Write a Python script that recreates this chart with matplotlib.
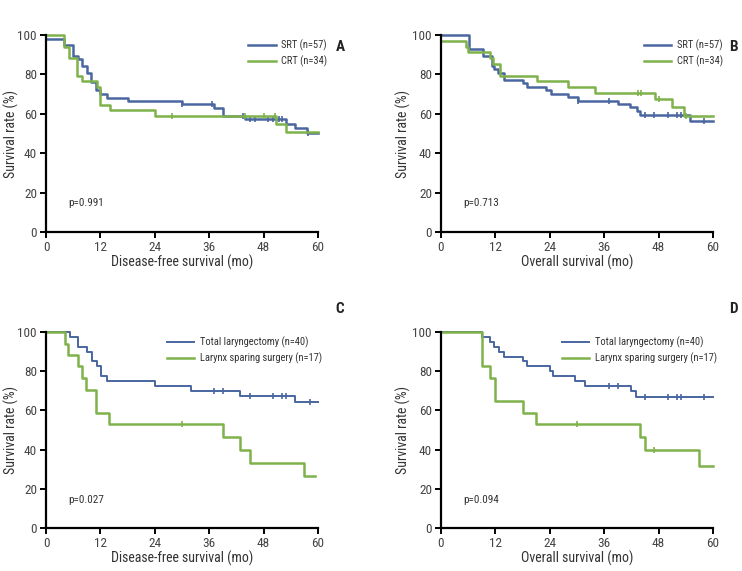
import numpy as np
import matplotlib
matplotlib.use("Agg")
import matplotlib.pyplot as plt
from matplotlib import font_manager

# a narrow sans looks closest to the original; fall back to Liberation Sans
installed = set(f.name for f in font_manager.fontManager.ttflist)
narrow = [n for n in ['Liberation Sans Narrow', 'DejaVu Sans Condensed', 'Roboto Condensed']
          if n in installed]
if narrow:
    FONT = narrow[0]
    FS_TICK, FS_LAB, FS_LEG, FS_P = 9.5, 10, 7.6, 8
else:
    FONT = 'Liberation Sans'
    FS_TICK, FS_LAB, FS_LEG, FS_P = 8.5, 8.3, 6.6, 7
plt.rcParams['font.family'] = [FONT, 'DejaVu Sans']

BLUE = '#4a66a0'
GREEN = '#7fb24a'

# --- panel A: disease-free survival, SRT vs CRT
srt_a_t = [0, 4, 6, 7, 8, 9, 10, 11, 12, 13.4, 18, 30, 37, 39, 44, 53, 55, 57.6]
srt_a_s = [98.2, 94.7, 89.5, 87.7, 84.2, 80.7, 76, 72, 70, 68.2, 66.5, 65, 63, 59, 57.6, 55, 52.8, 50.5]
srt_a_c = [30, 36.6, 43.5, 45, 46, 49, 50, 51.5, 52, 57.8]
crt_a_t = [0, 4, 5, 6.8, 7.9, 11.2, 11.9, 14.1, 24, 50.8, 52.9]
crt_a_s = [100, 94.1, 88.2, 79.4, 76.5, 73.5, 64.7, 61.8, 58.8, 55, 51]
crt_a_c = [27.9, 44, 48, 50.5]

# --- panel B: overall survival, SRT vs CRT
srt_b_t = [0, 6.1, 9.2, 11.2, 11.8, 12.5, 14, 18, 19, 23.2, 24.2, 28, 30.2, 39, 41.6, 43.2, 43.8, 54.9]
srt_b_s = [100, 93, 89.5, 84.2, 82.5, 80.7, 77.2, 75.4, 73.7, 71.9, 70.2, 68.4, 66.7, 64.9, 63.2, 61.4, 59.6, 56.5]
srt_b_c = [30.2, 37, 45, 47, 50, 52, 53, 58]
crt_b_t = [0, 5.6, 5.9, 10.8, 11.5, 13, 21.1, 28, 34, 47.1, 51, 53.6]
crt_b_s = [97.1, 94.1, 91.2, 88.2, 85.3, 79.4, 76.5, 73.5, 70.6, 67.3, 63.5, 58.8]
crt_b_c = [43.5, 44.2, 48, 54]

# --- panel C: disease-free survival, surgery type
tl_c_t = [0, 5.3, 7.0, 9.1, 10.1, 11.2, 12.1, 13.4, 24.1, 32, 42.9, 55]
tl_c_s = [100, 97.5, 92.5, 90, 85, 82.5, 77.5, 75, 72.5, 70, 67.5, 64.2]
tl_c_c = [37, 39, 45, 50, 52, 53, 58.3]
ls_c_t = [0, 4.2, 4.9, 7.0, 7.9, 8.8, 11.0, 14.0, 39, 42.9, 44.9, 57]
ls_c_s = [100, 94.1, 88.2, 82.4, 76.5, 70.6, 58.8, 52.9, 46.3, 39.7, 33.1, 26.5]
ls_c_c = [30]

# --- panel D: overall survival, surgery type
tl_d_t = [0, 9, 10.8, 11.6, 12.9, 14, 18, 19, 24, 24.7, 29.6, 31.7, 42, 43.1]
tl_d_s = [100, 97.5, 95, 92.5, 90, 87.5, 85, 82.5, 80, 77.5, 75, 72.5, 70, 67]
tl_d_c = [37, 39, 45, 50, 52, 53, 58]
ls_d_t = [0, 9, 10.9, 12, 18, 21, 44, 45.1, 57]
ls_d_s = [100, 82.4, 76.5, 64.7, 58.8, 52.9, 46.3, 39.7, 31.8]
ls_d_c = [30, 47]

def km(ax, t, s, cens, color, label, end=60, lw=1.8):
    tt = list(t) + [end]
    ss = list(s) + [s[-1]]
    ax.step(tt, ss, where='post', color=color, lw=lw, label=label, clip_on=False)
    # censor marks sit on the curve
    idx = np.searchsorted(t, cens, side='right') - 1
    ax.plot(cens, np.array(s)[idx], ls='none', marker='|', ms=5, mew=1.2,
            color=color, clip_on=False)

def style(ax, xlabel, pval, leg_x, ylab_x):
    ax.set_xlim(0, 60)
    ax.set_ylim(0, 100)
    ax.set_xticks(range(0, 61, 12))
    ax.set_yticks(range(0, 101, 20))
    for sp in ['top', 'right']:
        ax.spines[sp].set_visible(False)
    for sp in ['left', 'bottom']:
        ax.spines[sp].set_linewidth(1.6)
    ax.tick_params(direction='out', length=4, width=1.4, labelsize=FS_TICK,
                   labelcolor='#444444', pad=2.5)
    ax.set_xlabel(xlabel, fontsize=FS_LAB, color='#333333')
    ax.set_ylabel('Survival rate (%)', fontsize=FS_LAB, color='#333333')
    ax.xaxis.set_label_coords(0.5, -0.115)
    ax.yaxis.set_label_coords(ylab_x, 0.5)
    ax.text(0.08, 0.145, pval, transform=ax.transAxes, fontsize=FS_P,
            color='#333333', va='center')
    ax.legend(loc='upper left', bbox_to_anchor=(leg_x, 0.975), frameon=False,
              fontsize=FS_LEG, handlelength=2.6, handletextpad=0.5,
              labelspacing=0.4, borderpad=0, borderaxespad=0,
              labelcolor='#333333')

fig = plt.figure(figsize=(7.42, 5.71), dpi=100)
W, H = 742, 571
def add_ax(x0, x1, y0, y1):
    return fig.add_axes([x0 / W, 1 - y1 / H, (x1 - x0) / W, (y1 - y0) / H])

axA = add_ax(46, 318, 35, 232)
axB = add_ax(441, 713, 35, 232)
axC = add_ax(46, 318, 332, 528)
axD = add_ax(441, 713, 332, 528)

km(axA, srt_a_t, srt_a_s, srt_a_c, BLUE, 'SRT (n=57)')
km(axA, crt_a_t, crt_a_s, crt_a_c, GREEN, 'CRT (n=34)')
style(axA, 'Disease-free survival (mo)', 'p=0.991', 0.743, -0.10)

km(axB, srt_b_t, srt_b_s, srt_b_c, BLUE, 'SRT (n=57)')
km(axB, crt_b_t, crt_b_s, crt_b_c, GREEN, 'CRT (n=34)')
style(axB, 'Overall survival (mo)', 'p=0.713', 0.746, -0.112)

km(axC, tl_c_t, tl_c_s, tl_c_c, BLUE, 'Total laryngectomy (n=40)', lw=1.4)
km(axC, ls_c_t, ls_c_s, ls_c_c, GREEN, 'Larynx sparing surgery (n=17)', end=59.3)
style(axC, 'Disease-free survival (mo)', 'p=0.027', 0.445, -0.10)

km(axD, tl_d_t, tl_d_s, tl_d_c, BLUE, 'Total laryngectomy (n=40)', lw=1.4)
km(axD, ls_d_t, ls_d_s, ls_d_c, GREEN, 'Larynx sparing surgery (n=17)')
style(axD, 'Overall survival (mo)', 'p=0.094', 0.445, -0.112)

for letter, x, y in [('A', 340, 47), ('B', 733, 47), ('C', 340, 309), ('D', 733, 309)]:
    fig.text(x / W, 1 - y / H, letter, fontsize=11, fontweight='bold',
             ha='center', va='center', color='#222222')

fig.savefig('out.png', dpi=100)
